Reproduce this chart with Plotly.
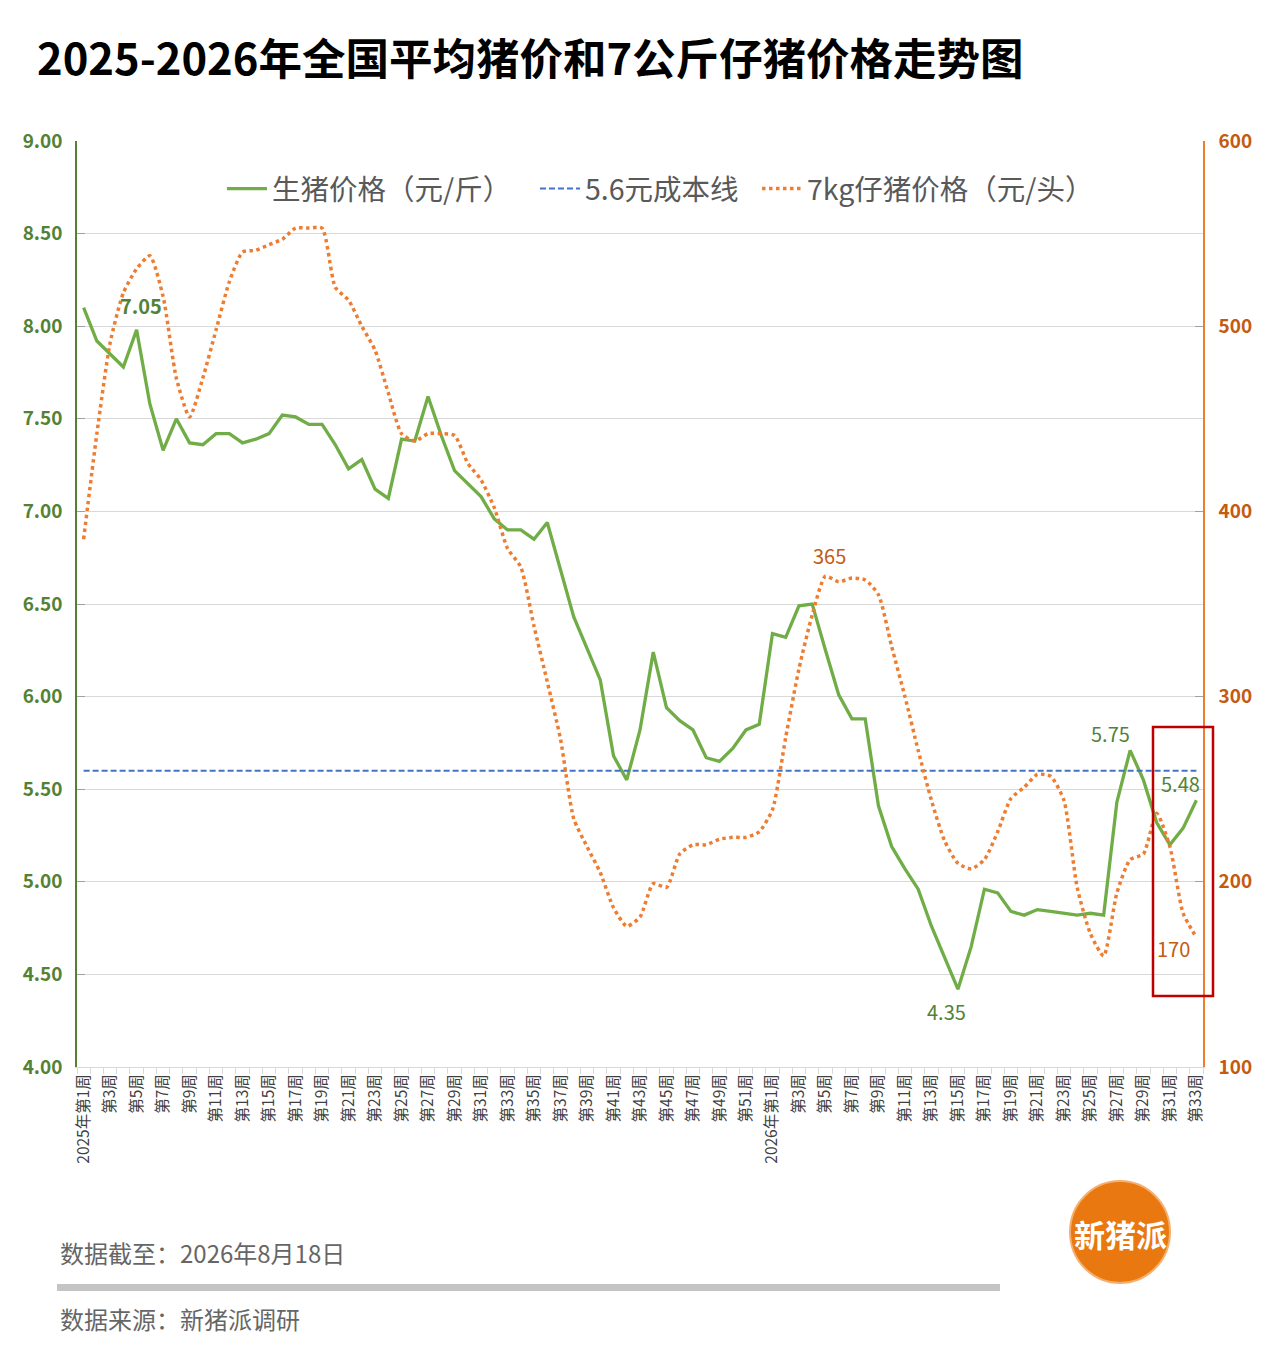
import plotly.graph_objects as go

# ---------------- data ----------------
weeks_2025 = [f"第{w}周" for w in range(1, 53)]
weeks_2026 = [f"第{w}周" for w in range(1, 34)]
categories = ["2025年" + weeks_2025[0]] + weeks_2025[1:] + ["2026年" + weeks_2026[0]] + weeks_2026[1:]

hog_price = [8.10, 7.92, 7.85, 7.78, 7.98, 7.58, 7.33, 7.50, 7.37, 7.36,
             7.42, 7.42, 7.37, 7.39, 7.42, 7.52, 7.51, 7.47, 7.47, 7.36,
             7.23, 7.28, 7.12, 7.07, 7.39, 7.38, 7.62, 7.41, 7.22, 7.15,
             7.08, 6.96, 6.90, 6.90, 6.85, 6.94, 6.68, 6.43, 6.26, 6.09,
             5.68, 5.55, 5.82, 6.24, 5.94, 5.87, 5.82, 5.67, 5.65, 5.72,
             5.82, 5.85, 6.34, 6.32, 6.49, 6.50, 6.25, 6.01, 5.88, 5.88,
             5.41, 5.19, 5.07, 4.96, 4.76, 4.59, 4.42, 4.65, 4.96, 4.94,
             4.84, 4.82, 4.85, 4.84, 4.83, 4.82, 4.83, 4.82, 5.43, 5.71,
             5.55, 5.32, 5.20, 5.29, 5.44]

piglet_price = [385, 442, 491, 518, 531, 538, 516, 472, 451, 472,
                498, 524, 540, 541, 544, 547, 553, 553, 553, 521,
                514, 500, 487, 464, 442, 438, 442, 442, 441, 426,
                417, 402, 380, 370, 338, 308, 277, 234, 219, 205,
                186, 176, 181, 199, 197, 215, 220, 220, 223, 224,
                224, 227, 239, 278, 315, 344, 365, 362, 364, 363,
                355, 327, 300, 271, 244, 222, 210, 207, 212, 227,
                245, 251, 258, 257, 244, 197, 172, 160, 194, 212,
                215, 237, 219, 183, 170]

cost_line = [5.6] * len(categories)

left_ticks = [4.0, 4.5, 5.0, 5.5, 6.0, 6.5, 7.0, 7.5, 8.0, 8.5, 9.0]
right_ticks = [100, 200, 300, 400, 500, 600]

# data-label annotations
labels_hog = [("7.05", 4.35, 8.11, True), ("4.35", 65.1, 4.30, False),
              ("5.75", 77.55, 5.80, False), ("5.48", 82.77, 5.53, False)]
labels_piglet = [("365", 56.3, 376), ("170", 82.24, 164)]

title = "2025-2026年全国平均猪价和7公斤仔猪价格走势图"
names = ["生猪价格（元/斤）", "5.6元成本线", "7kg仔猪价格（元/头）"]
footer_date = "数据截至：2026年8月18日"
footer_source = "数据来源：新猪派调研"
logo_text = "新猪派"

# ---------------- figure ----------------
FONT = "Noto Sans CJK SC"
GREEN = "#70AD47"
GREEN_TXT = "#548235"
ORANGE = "#ED7D31"
ORANGE_TXT = "#C55A11"
BLUE = "#4472C4"

W, H = 1280, 1358
OFF = 8  # page body offset
pl, pr, pt, pb = 77, 1203, 141, 1067   # plot area in page pixels


def px_x(px):
    return (px - pl) / (pr - pl)


def px_y(py):
    return (pb - py) / (pb - pt)


x_idx = list(range(len(categories)))

fig = go.Figure()
fig.add_trace(go.Scatter(x=x_idx, y=hog_price, name=names[0], mode="lines",
                         line=dict(color=GREEN, width=3.3), yaxis="y", legend="legend"))
fig.add_trace(go.Scatter(x=x_idx, y=cost_line, name=names[1], mode="lines",
                         line=dict(color=BLUE, width=2, dash="6px,3px"), yaxis="y", legend="legend2"))
fig.add_trace(go.Scatter(x=x_idx, y=piglet_price, name=names[2], mode="lines",
                         line=dict(color=ORANGE, width=3.5, dash="3.5px,3.5px", shape="spline", smoothing=0.6),
                         yaxis="y2", legend="legend3"))

tickvals = [i for i in x_idx if i % 2 == 0]
ticktext = [categories[i] for i in tickvals]

leg_common = dict(orientation="h", yanchor="middle", xanchor="left",
                  font=dict(size=28.5, color="#595959", family=FONT),
                  bgcolor="rgba(0,0,0,0)", itemwidth=40)

fig.update_layout(
    width=W, height=H,
    paper_bgcolor="white", plot_bgcolor="white",
    margin=dict(l=pl - OFF, r=W - (pr - OFF), t=pt - OFF, b=H - (pb - OFF)),
    font=dict(family=FONT, color="#404040"),
    showlegend=True,
    title=dict(text=f"<b>{title}</b>", x=(37 - OFF) / W, xanchor="left", xref="container",
               y=1 - (60 - OFF) / H, yanchor="middle", yref="container",
               font=dict(size=43.5, color="#000000", family=FONT)),
    legend=dict(x=px_x(222), y=px_y(189), **leg_common),
    legend2=dict(x=px_x(535), y=px_y(189), **leg_common),
    legend3=dict(x=px_x(757), y=px_y(189), **leg_common),
    xaxis=dict(range=[-0.5, len(categories) - 0.5], tickmode="array",
               tickvals=tickvals, ticktext=ticktext, tickangle=-90,
               tickfont=dict(size=15.5, color="#404040", family=FONT),
               ticks="", showgrid=False, zeroline=False,
               showline=True, linecolor="#D9D9D9", linewidth=1,
               minor=dict(ticks="outside", tickvals=[i - 0.5 for i in range(len(categories) + 1)],
                          ticklen=6, tickcolor="#D9D9D9", tickwidth=1, showgrid=False)),
    yaxis=dict(range=[4.0, 9.0], tickmode="array", tickvals=left_ticks,
               tickformat=".2f", tickfont=dict(size=19, color=GREEN_TXT, family=FONT, weight="bold"),
               showgrid=True, gridcolor="#D9D9D9", gridwidth=1, zeroline=False,
               showline=True, linecolor="#548235", linewidth=1.5,
               ticks="inside", ticklen=8, tickcolor="#A0A0A0", ticklabelstandoff=9),
    yaxis2=dict(range=[100, 600], tickmode="array", tickvals=right_ticks,
                overlaying="y", side="right", showgrid=False, zeroline=False,
                tickfont=dict(size=19, color=ORANGE_TXT, family=FONT, weight="bold"),
                showline=True, linecolor=ORANGE, linewidth=1.5,
                ticks="inside", ticklen=8, tickcolor="#A0A0A0", ticklabelstandoff=10),
)

annotations = []
for text, xi, v, bold in labels_hog:
    annotations.append(dict(x=xi, y=v, xref="x", yref="y", text=text, showarrow=False,
                            font=dict(size=20, color=GREEN_TXT, family=FONT,
                                      weight="bold" if bold else "normal")))
for text, xi, v in labels_piglet:
    annotations.append(dict(x=xi, y=v, xref="x", yref="y2", text=text, showarrow=False,
                            font=dict(size=20, color=ORANGE_TXT, family=FONT)))

annotations += [
    dict(x=px_x(58), y=px_y(1252), xref="paper", yref="paper", xanchor="left", yanchor="middle",
         text=footer_date, showarrow=False, font=dict(size=24, color="#666666", family=FONT)),
    dict(x=px_x(58), y=px_y(1318), xref="paper", yref="paper", xanchor="left", yanchor="middle",
         text=footer_source, showarrow=False, font=dict(size=24, color="#666666", family=FONT)),
    dict(x=px_x(1120), y=px_y(1233), xref="paper", yref="paper", xanchor="center", yanchor="middle",
         text=f"<b>{logo_text}</b>", showarrow=False, font=dict(size=31, color="#FFFFFF", family=FONT)),
]
fig.update_layout(annotations=annotations)

fig.update_layout(shapes=[
    # red highlight box
    dict(type="rect", xref="paper", yref="paper", x0=px_x(1153), x1=px_x(1213),
         y0=px_y(996), y1=px_y(727), line=dict(color="#C00000", width=2.5), fillcolor="rgba(0,0,0,0)"),
    # footer bar
    dict(type="rect", xref="paper", yref="paper", x0=px_x(57), x1=px_x(1000),
         y0=px_y(1291), y1=px_y(1284), line=dict(width=0), fillcolor="#C4C4C4"),
    # logo circle
    dict(type="circle", xref="paper", yref="paper", x0=px_x(1070), x1=px_x(1170),
         y0=px_y(1283), y1=px_y(1181), line=dict(color="#F5B070", width=2), fillcolor="#E8780F"),
])

fig.write_html("out.html")
